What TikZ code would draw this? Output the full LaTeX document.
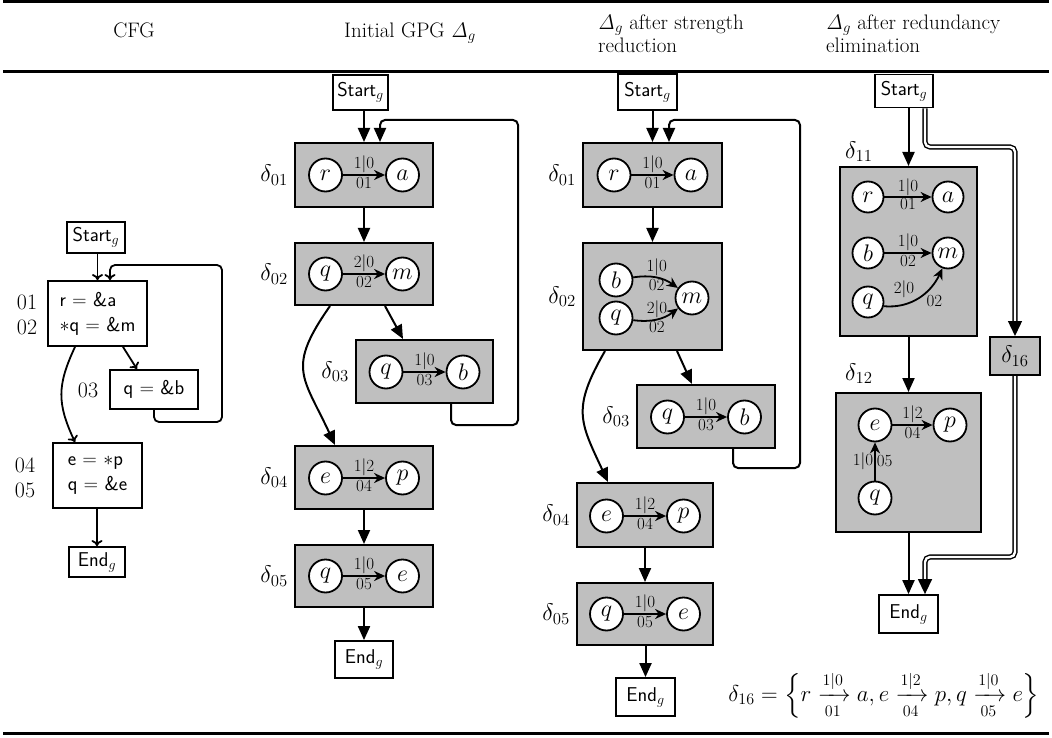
\RequirePackage{fix-cm}
\documentclass[tikz,border=0pt]{standalone}
\usepackage{amsmath}
\usetikzlibrary{arrows.meta}
\begin{document}
\begin{tikzpicture}[x=1pt,y=-1pt,
  hdr/.style={font=\fontsize{21}{23}\selectfont, inner sep=0pt},
  num/.style={font=\fontsize{22}{24}\selectfont, inner sep=0pt},
  cbox/.style={draw, line width=1.8pt, inner sep=0pt, align=left, font=\sffamily\fontsize{20}{25}\selectfont},
  sbox/.style={draw, line width=1.8pt, inner sep=0pt, font=\sffamily\fontsize{20}{22}\selectfont},
  gbox/.style={draw, line width=2pt, fill=gray!50, inner sep=0pt},
  vtx/.style={circle, draw, fill=white, line width=1.8pt, minimum size=33pt, inner sep=0pt, font=\fontsize{24}{26}\selectfont},
  svtx/.style={vtx, minimum size=31pt},
  dl/.style={font=\fontsize{24}{26}\selectfont, inner sep=0pt},
  el/.style={font=\fontsize{17}{19}\selectfont, inner sep=1pt},
  garr/.style={line width=2pt, -{Triangle[length=14pt,width=12pt]}},
  iarr/.style={line width=1.8pt, -{Stealth[length=11pt,width=10pt,inset=3.5pt]}},
  carr/.style={line width=1.8pt, -{Computer Modern Rightarrow[length=6pt,width=11pt]}},
  dbl/.style={double, line width=1.4pt, double distance=2.4pt, rounded corners=5pt, -{Triangle[length=15pt,width=14pt]}}
]
\useasboundingbox (0,0) rectangle (1052,738);
% rules
\draw[line width=3pt] (3,1.5) -- (1049,1.5);
\draw[line width=2.4pt] (3,71.5) -- (1049,71.5);
\draw[line width=3pt] (3,733) -- (1049,733);
% headers
\node[hdr] (h1) at (134,30) {CFG};
\node[hdr] (h2) at (410,33) {Initial GPG $\mathit{\Delta}_g$};
\node[hdr, anchor=west, align=left] (h3) at (598,34) {$\mathit{\Delta}_g$ after strength\\reduction};
\node[hdr, anchor=west, align=left] (h4) at (826,34) {$\mathit{\Delta}_g$ after redundancy\\elimination};

% ---------------- CFG ----------------
\node[sbox, minimum width=58pt, minimum height=31pt] (cStart) at (96,237.5) {Start$_g$};
\node[cbox, minimum width=99pt, minimum height=65pt] (cB1) at (97.5,313.5) {r = \&a\\$\ast$q = \&m};
\node[cbox, minimum width=88pt, minimum height=39pt, align=center] (cB3) at (154,389.5) {q = \&b};
\node[cbox, minimum width=89pt, minimum height=65pt] (cB4) at (97.5,475.5) {e = $\ast$p\\q = \&e};
\node[sbox, minimum width=56pt, minimum height=30pt] (cEnd) at (97,562) {End$_g$};
\node[num] (n01) at (27,302) {01};
\node[num] (n02) at (27,327) {02};
\node[num] (n03) at (88,390) {03};
\node[num] (n04) at (25,465) {04};
\node[num] (n05) at (25,490) {05};
\coordinate (cbk1) at (222,422);
\coordinate (cbk2) at (222,265);
\draw[carr] (cStart.south -| cB1.north) -- (cB1.north);
\draw[carr] ([xshift=25.5pt]cB1.south) -- ([xshift=-17pt]cB3.north);
\draw[carr] ([xshift=-22.5pt]cB1.south) to[out=245,in=115,looseness=1.15] ([xshift=-22.5pt]cB4.north);
\draw[carr, rounded corners=5pt] (cB3.south) |- (cbk1) -- (cbk2) -| ([xshift=12.5pt]cB1.north);
\draw[carr] (cB4.south -| cEnd.north) -- (cEnd.north);

% ---------------- Initial GPG ----------------
\node[sbox, minimum width=55pt, minimum height=35pt] (gStart) at (360.5,92.5) {Start$_g$};
\node[gbox, minimum width=138pt, minimum height=64pt] (d01) at (364,175) {};
\node[gbox, minimum width=138pt, minimum height=62pt] (d02) at (364,274) {};
\node[gbox, minimum width=137pt, minimum height=63pt] (d03) at (424.5,371.5) {};
\node[gbox, minimum width=138pt, minimum height=63pt] (d04) at (364,477.5) {};
\node[gbox, minimum width=138pt, minimum height=62pt] (d05) at (364,576) {};
\node[sbox, minimum width=58pt, minimum height=37pt] (gEnd) at (364,659.5) {End$_g$};
\node[dl, left=6pt] (ld01) at (d01.west) {$\delta_{01}$};
\node[dl, left=6pt] (ld02) at (d02.west) {$\delta_{02}$};
\node[dl, left=6pt] (ld03) at (d03.west) {$\delta_{03}$};
\node[dl, left=6pt] (ld04) at (d04.west) {$\delta_{04}$};
\node[dl, left=6pt] (ld05) at (d05.west) {$\delta_{05}$};
\node[vtx] (d01r) at (325.5,175) {$r$};
\node[vtx] (d01a) at (402.5,175) {$a$};
\node[vtx] (d02q) at (325.5,274) {$q$};
\node[vtx] (d02m) at (402.5,274) {$m$};
\node[vtx] (d03q) at (386,372) {$q$};
\node[vtx] (d03b) at (463,372) {$b$};
\node[vtx] (d04e) at (325.5,478) {$e$};
\node[vtx] (d04p) at (402.5,478) {$p$};
\node[vtx] (d05q) at (325.5,576) {$q$};
\node[vtx] (d05e) at (402.5,576) {$e$};
\draw[iarr] (d01r) -- node[el,above]{$1|0$} node[el,below]{01} (d01a);
\draw[iarr] (d02q) -- node[el,above]{$2|0$} node[el,below]{02} (d02m);
\draw[iarr] (d03q) -- node[el,above]{$1|0$} node[el,below]{03} (d03b);
\draw[iarr] (d04e) -- node[el,above]{$1|2$} node[el,below]{04} (d04p);
\draw[iarr] (d05q) -- node[el,above]{$1|0$} node[el,below]{05} (d05e);
\coordinate (gbk1) at (518,425);
\coordinate (gbk2) at (518,120);
\draw[garr] (gStart.south -| d01.north) -- (d01.north);
\draw[garr, rounded corners=5pt] ([xshift=26.5pt]d03.south) |- (gbk1) -- (gbk2) -| ([xshift=16pt]d01.north);
\draw[garr] (d01) -- (d02);
\draw[garr] ([xshift=21pt]d02.south) -- ([xshift=-21.5pt]d03.north);
\draw[garr] ([xshift=-34pt]d02.south) to[out=235,in=115,looseness=1.4] ([xshift=-29pt]d04.north);
\draw[garr] (d04) -- (d05);
\draw[garr] (d05.south) -- (gEnd.north);

% ---------------- after strength reduction ----------------
\node[sbox, minimum width=59pt, minimum height=36pt] (hStart) at (647.5,92) {Start$_g$};
\node[gbox, minimum width=139pt, minimum height=64pt] (e01) at (652.5,175) {};
\node[gbox, minimum width=139pt, minimum height=107pt] (e02) at (652.5,296.5) {};
\node[gbox, minimum width=138pt, minimum height=63pt] (e03) at (706,416.5) {};
\node[gbox, minimum width=136pt, minimum height=64pt] (e04) at (645,515) {};
\node[gbox, minimum width=136pt, minimum height=62pt] (e05) at (645,614) {};
\node[sbox, minimum width=59pt, minimum height=38pt] (hEnd) at (645.5,697) {End$_g$};
\node[dl, left=6pt] (le01) at (e01.west) {$\delta_{01}$};
\node[dl, left=6pt] (le02) at (e02.west) {$\delta_{02}$};
\node[dl, left=6pt] (le03) at (e03.west) {$\delta_{03}$};
\node[dl, left=6pt] (le04) at (e04.west) {$\delta_{04}$};
\node[dl, left=6pt] (le05) at (e05.west) {$\delta_{05}$};
\node[vtx] (e01r) at (614,175) {$r$};
\node[vtx] (e01a) at (691,175) {$a$};
\node[vtx] (e02b) at (616,280) {$b$};
\node[vtx] (e02q) at (616,318) {$q$};
\node[vtx] (e02m) at (692,298) {$m$};
\node[vtx] (e03q) at (667.5,417) {$q$};
\node[vtx] (e03b) at (744.5,417) {$b$};
\node[vtx] (e04e) at (606.5,516) {$e$};
\node[vtx] (e04p) at (683.5,516) {$p$};
\node[vtx] (e05q) at (606.5,614) {$q$};
\node[vtx] (e05e) at (683.5,614) {$e$};
\draw[iarr] (e01r) -- node[el,above]{$1|0$} node[el,below]{01} (e01a);
\draw[iarr] (e02b) to[bend left=22] node[el,above]{$1|0$} node[el,below]{02} (e02m);
\draw[iarr] (e02q) to[bend right=22] node[el,above]{$2|0$} node[el,below]{02} (e02m);
\draw[iarr] (e03q) -- node[el,above]{$1|0$} node[el,below]{03} (e03b);
\draw[iarr] (e04e) -- node[el,above]{$1|2$} node[el,below]{04} (e04p);
\draw[iarr] (e05q) -- node[el,above]{$1|0$} node[el,below]{05} (e05e);
\coordinate (hbk1) at (800,468);
\coordinate (hbk2) at (800,120);
\draw[garr] (hStart.south -| e01.north) -- (e01.north);
\draw[garr, rounded corners=5pt] ([xshift=27pt]e03.south) |- (hbk1) -- (hbk2) -| ([xshift=16.5pt]e01.north);
\draw[garr] (e01) -- (e02);
\draw[garr] ([xshift=24.5pt]e02.south) -- ([xshift=-14pt]e03.north);
\draw[garr] ([xshift=-47.5pt]e02.south) to[out=240,in=115,looseness=1.3] ([xshift=-37pt]e04.north);
\draw[garr] (e04.south -| e05.north) -- (e05.north);
\draw[garr] (e05.south -| hEnd.north) -- (hEnd.north);

% ---------------- after redundancy elimination ----------------
\node[sbox, minimum width=58pt, minimum height=33pt] (kStart) at (904,91) {Start$_g$};
\node[gbox, minimum width=137pt, minimum height=169pt] (k11) at (908.5,251.5) {};
\node[gbox, minimum width=50pt, minimum height=38pt, font=\fontsize{24}{26}\selectfont] (k16) at (1015,356) {$\delta_{16}$};
\node[gbox, minimum width=145pt, minimum height=139pt] (k12) at (908.5,462.5) {};
\node[sbox, minimum width=59pt, minimum height=38pt] (kEnd) at (908.5,614) {End$_g$};
\node[dl, anchor=south west] (lk11) at ([xshift=6pt,yshift=4pt]k11.north west) {$\delta_{11}$};
\node[dl, anchor=south west] (lk12) at ([xshift=10pt,yshift=8pt]k12.north west) {$\delta_{12}$};
\node[svtx] (k11r) at (868,197) {$r$};
\node[svtx] (k11a) at (948,197) {$a$};
\node[svtx] (k11b) at (868,253) {$b$};
\node[svtx] (k11m) at (948,253) {$m$};
\node[svtx] (k11q) at (868,302) {$q$};
\node[vtx] (k12e) at (875,425) {$e$};
\node[vtx] (k12p) at (950,425) {$p$};
\node[vtx] (k12q) at (875,498) {$q$};
\draw[iarr] (k11r) -- node[el,above,inner sep=0pt]{$1|0$} node[el,below,inner sep=0pt]{01} (k11a);
\draw[iarr] (k11b) -- node[el,above]{$1|0$} node[el,below]{02} (k11m);
\draw[iarr] (k11q.-15) to[out=-5,in=245] node[el,above left, pos=0.45]{$2|0$} node[el,below right,pos=0.6]{02} (k11m.250);
\draw[iarr] (k12e) -- node[el,above]{$1|2$} node[el,below]{04} (k12p);
\draw[iarr] (k12q) -- node[el,left]{$1|0$} node[el,right]{05} (k12e);
\coordinate (kbk1) at (1015,147);
\coordinate (kbk2) at (925,557);
\draw[garr] (kStart.south -| k11.north) -- (k11.north);
\draw[garr] (k11) -- (k12);
\draw[garr] (k12.south) -- (kEnd.north);
\draw[dbl] ([xshift=21pt]kStart.south) |- (kbk1) -- (k16.north);
\draw[dbl] (k16.south) |- (kbk2) -- (kbk2 |- kEnd.north);

\node[dl, font=\fontsize{23}{26}\selectfont] (f16) at (884,695) {$\delta_{16} = \left\{r \xrightarrow[01]{1|0} a, e \xrightarrow[04]{1|2} p, q \xrightarrow[05]{1|0} e\right\}$};
\end{tikzpicture}
\end{document}
